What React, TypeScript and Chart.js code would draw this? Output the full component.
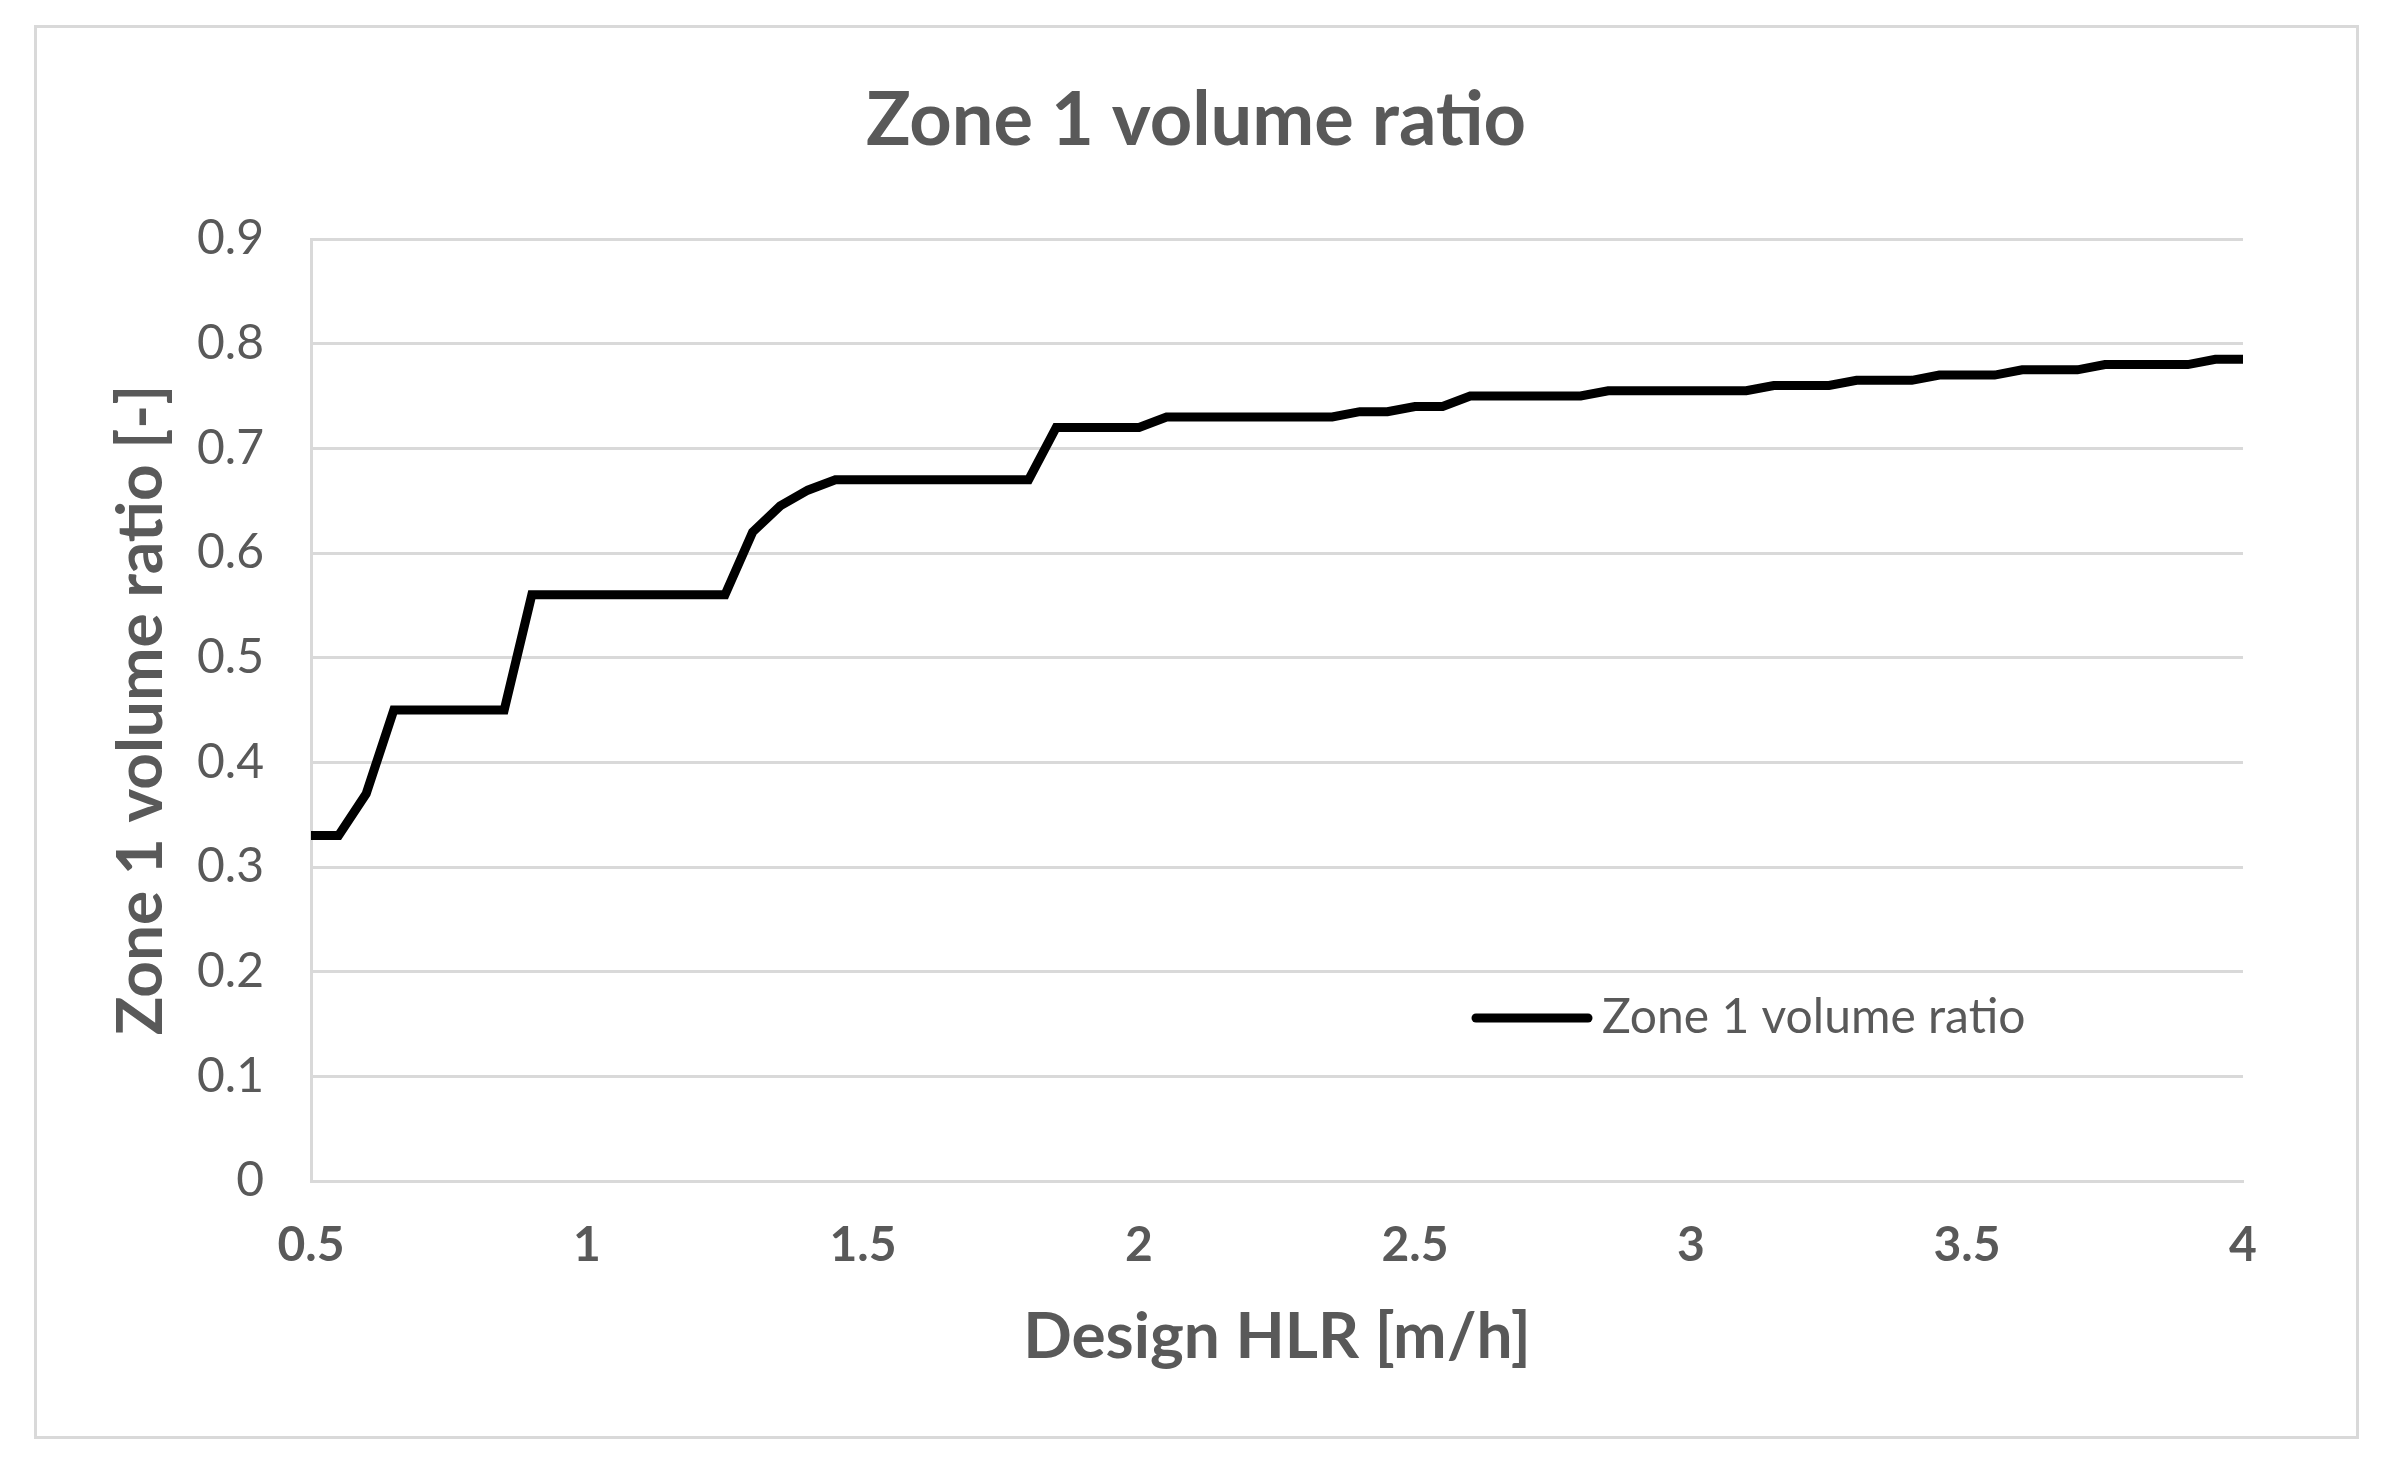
import React, { useEffect, useRef } from "react";
import { Chart, registerables } from "chart.js";

Chart.register(...registerables);

const chartTitle = "Zone 1 volume ratio";
const xAxisTitle = "Design HLR [m/h]";
const yAxisTitle = "Zone 1 volume ratio [-]";
const seriesLabel = "Zone 1 volume ratio";

const hlrValues = [
  0.5, 0.55, 0.6, 0.65, 0.7, 0.75, 0.8, 0.85, 0.9, 0.95,
  1.0, 1.05, 1.1, 1.15, 1.2, 1.25, 1.3, 1.35, 1.4, 1.45,
  1.5, 1.55, 1.6, 1.65, 1.7, 1.75, 1.8, 1.85, 1.9, 1.95,
  2.0, 2.05, 2.1, 2.15, 2.2, 2.25, 2.3, 2.35, 2.4, 2.45,
  2.5, 2.55, 2.6, 2.65, 2.7, 2.75, 2.8, 2.85, 2.9, 2.95,
  3.0, 3.05, 3.1, 3.15, 3.2, 3.25, 3.3, 3.35, 3.4, 3.45,
  3.5, 3.55, 3.6, 3.65, 3.7, 3.75, 3.8, 3.85, 3.9, 3.95,
  4.0,
];

const volumeRatio = [
  0.33, 0.33, 0.37, 0.45, 0.45, 0.45, 0.45, 0.45, 0.56, 0.56,
  0.56, 0.56, 0.56, 0.56, 0.56, 0.56, 0.62, 0.645, 0.66, 0.67,
  0.67, 0.67, 0.67, 0.67, 0.67, 0.67, 0.67, 0.72, 0.72, 0.72,
  0.72, 0.73, 0.73, 0.73, 0.73, 0.73, 0.73, 0.73, 0.735, 0.735,
  0.74, 0.74, 0.75, 0.75, 0.75, 0.75, 0.75, 0.755, 0.755, 0.755,
  0.755, 0.755, 0.755, 0.76, 0.76, 0.76, 0.765, 0.765, 0.765, 0.77,
  0.77, 0.77, 0.775, 0.775, 0.775, 0.78, 0.78, 0.78, 0.78, 0.785,
  0.785,
];

const xTickLabels = ["0.5", "1", "1.5", "2", "2.5", "3", "3.5", "4"];
const yTickLabels = ["0", "0.1", "0.2", "0.3", "0.4", "0.5", "0.6", "0.7", "0.8", "0.9"];

const TEXT = "#595959";
const GRID = "#d9d9d9";
const FONT = "Lato, 'Open Sans', sans-serif";

const framePlugin = {
  id: "frame",
  beforeDraw(chart: any) {
    const { ctx, width, height } = chart;
    ctx.save();
    ctx.fillStyle = "#ffffff";
    ctx.fillRect(0, 0, width, height);
    ctx.strokeStyle = GRID;
    ctx.lineWidth = 3;
    ctx.strokeRect(35.5, 26.5, 2322, 1411);
    ctx.fillStyle = TEXT;
    ctx.font = `bold 74px ${FONT}`;
    ctx.textAlign = "center";
    ctx.textBaseline = "middle";
    ctx.fillText(chartTitle, 1196, 121);
    ctx.restore();
  },
};

const insideLegendPlugin = {
  id: "insideLegend",
  afterDatasetsDraw(chart: any) {
    const { ctx, chartArea } = chart;
    const ds = chart.data.datasets[0];
    const x0 = chartArea.left + 1165;
    const y0 = chartArea.top + 779;
    ctx.save();
    ctx.strokeStyle = ds.borderColor;
    ctx.lineWidth = 9;
    ctx.lineCap = "round";
    ctx.beginPath();
    ctx.moveTo(x0, y0);
    ctx.lineTo(x0 + 112, y0);
    ctx.stroke();
    ctx.fillStyle = TEXT;
    ctx.font = `48px ${FONT}`;
    ctx.textAlign = "left";
    ctx.textBaseline = "middle";
    ctx.fillText(ds.label, x0 + 126, y0);
    ctx.restore();
  },
};

export default function App() {
  const canvasRef = useRef<HTMLCanvasElement | null>(null);

  useEffect(() => {
    document.body.style.margin = "0";
    const canvas = canvasRef.current;
    if (!canvas) return;
    const points = hlrValues.map((x, i) => ({ x, y: volumeRatio[i] }));
    const chart = new Chart(canvas, {
      type: "line",
      data: {
        datasets: [
          {
            label: seriesLabel,
            data: points,
            borderColor: "#000000",
            backgroundColor: "#000000",
            borderWidth: 9,
            pointRadius: 0,
            tension: 0,
            fill: false,
          },
        ],
      },
      options: {
        responsive: false,
        animation: false,
        layout: { padding: { left: 34, right: 161, top: 239, bottom: 35 } },
        plugins: {
          legend: { display: false },
          tooltip: { enabled: false },
          title: { display: false },
        },
        scales: {
          x: {
            type: "linear",
            min: 0.5,
            max: 4,
            ticks: {
              stepSize: 0.5,
              padding: 36,
              color: TEXT,
              font: { family: FONT, size: 48, weight: "bold" },
              callback: (_v: any, i: number) => xTickLabels[i],
            },
            grid: { color: "rgba(0,0,0,0)", drawTicks: false },
            border: { display: true, color: GRID, width: 3 },
            title: {
              display: true,
              text: xAxisTitle,
              color: TEXT,
              font: { family: FONT, size: 64, weight: "bold" },
              padding: { top: 0, bottom: 62 },
            },
            afterFit: (s: any) => {
              s.height = 257;
              s.paddingLeft = 0;
              s.paddingRight = 0;
            },
          },
          y: {
            type: "linear",
            min: 0,
            max: 0.9,
            ticks: {
              stepSize: 0.1,
              padding: 47,
              color: TEXT,
              font: { family: FONT, size: 48 },
              callback: (_v: any, i: number) => yTickLabels[i],
            },
            grid: { color: GRID, lineWidth: 3, drawTicks: false },
            border: { display: true, color: GRID, width: 3 },
            title: {
              display: true,
              text: yAxisTitle,
              color: TEXT,
              font: { family: FONT, size: 64, weight: "bold" },
              padding: { top: 69, bottom: 0 },
            },
            afterFit: (s: any) => {
              s.width = 277;
              s.paddingTop = 0;
              s.paddingBottom = 0;
            },
          },
        },
      },
      plugins: [framePlugin, insideLegendPlugin],
    } as any);
    return () => chart.destroy();
  }, []);

  return (
    <div style={{ width: 2404, height: 1473, position: "relative" }}>
      <canvas ref={canvasRef} width={2404} height={1473} style={{ display: "block" }} />
    </div>
  );
}
